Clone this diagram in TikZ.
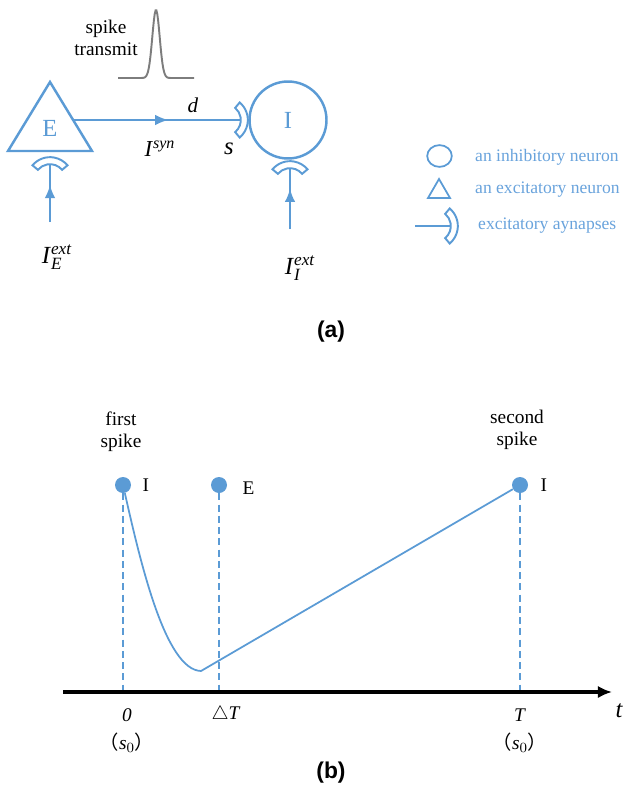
\documentclass[tikz,border=0pt]{standalone}
\usepackage{amsmath,amssymb}
\usepackage{fontspec}
\setmainfont{Liberation Serif}
\newfontfamily\tagfont{Liberation Sans}
\newfontfamily\cjk{Noto Sans CJK SC}
\usepackage{tikz}
\usetikzlibrary{calc,positioning,arrows.meta,decorations.markings}
\usepackage{xcolor}
\definecolor{nblue}{RGB}{91,155,213}
\definecolor{lblue}{RGB}{105,163,220}
\definecolor{sgray}{RGB}{125,125,125}

\tikzset{
  synapse/.pic={
    \draw[syncup] (-50:9pt) arc (-50:50:9pt) -- (50:13pt) arc (50:-50:13pt) -- cycle;
  }
}

\begin{document}
\begin{tikzpicture}[x=0.02cm,y=-0.02cm,
  nrn/.style={draw=nblue, line width=1.4pt},
  conn/.style={draw=nblue, line width=1.1pt},
  syncup/.style={draw=nblue, line width=1.1pt, fill=white},
  midarrow/.style={postaction={decorate},
    decoration={markings, mark=at position #1 with {\arrow{Latex[length=7.5pt,width=6pt]}}}},
  ntext/.style={text=nblue, font=\fontsize{14}{16}\selectfont},
  legtext/.style={text=lblue, anchor=west, font=\fontsize{10}{12}\selectfont},
  lab/.style={font=\fontsize{11}{12.5}\selectfont, align=center},
  tag/.style={font=\tagfont\bfseries\fontsize{13}{15}\selectfont},
  vdash/.style={draw=nblue, line width=1.2pt, dash pattern=on 4pt off 2.4pt},
  dot/.style={circle, fill=nblue, minimum size=0.32cm, inner sep=0pt},
  trace/.style={draw=nblue, line width=1pt}]
  \useasboundingbox (0,0) rectangle (625,794);

  % ---------- (a) network ----------
  % spike transmit
  \node[lab] (spk) at (106,38) {spike\\transmit};
  \draw[sgray, line width=1.1pt] plot[domain=118:194, samples=90]
    (\x, {78-68*exp(-((\x-156)/5.2)*((\x-156)/5.2))});

  % excitatory neuron E
  \draw[nrn] (8,151) -- (92,151) -- (50,82) -- cycle;
  \node[ntext] (E) at (50,128) {E};

  % inhibitory neuron I
  \node[circle, nrn, minimum size=1.54cm, inner sep=0pt] (I) at (288,120) {};
  \node[ntext] (Ilab) at (288,120) {I};

  % synapse E -> I
  \coordinate (Eout) at (74,120);
  \coordinate (sI) at (241,120);
  \draw[conn, midarrow=0.565] (Eout) -- (sI);
  \pic at (225,120) {synapse};
  \node[font=\fontsize{12}{14}\selectfont\itshape] (d) at (193,105) {d};
  \node[font=\fontsize{13}{15}\selectfont] (Isyn) at (160,149) {\textit{I}$^{\textit{syn}}$};
  \node[font=\fontsize{14}{16}\selectfont\itshape] (s) at (229,149) {s};

  % external inputs
  \coordinate (eIn) at (50,222);
  \coordinate (eSyn) at (50,164);
  \draw[conn, midarrow=0.64] (eIn) -- (eSyn);
  \pic[rotate=90] at (50,180) {synapse};
  \coordinate (iIn) at (290,229);
  \coordinate (iSyn) at (290,168);
  \draw[conn, midarrow=0.66] (iIn) -- (iSyn);
  \pic[rotate=90] at (290,184) {synapse};
  \node[font=\fontsize{14}{16}\selectfont] (IE) at (57,257) {\textit{I}$_{\textit{E}}^{\textit{ext}}$};
  \node[font=\fontsize{14}{16}\selectfont] (II) at (300,268) {\textit{I}$_{\textit{I}}^{\textit{ext}}$};

  % legend
  \draw[nblue, line width=1pt] (439.5,156) ellipse [x radius=7pt, y radius=6.2pt];
  \node[legtext] (l1) at (469,157) {an inhibitory neuron};
  \draw[nblue, line width=1pt] (428,198) -- (450,198) -- (439,179) -- cycle;
  \node[legtext] (l2) at (469,190) {an excitatory neuron};
  \coordinate (lgA) at (415,226);
  \coordinate (lgB) at (451,226);
  \draw[conn, line width=1pt] (lgA) -- (lgB);
  \pic at (435,226) {synapse};
  \node[legtext] (l3) at (472,226) {excitatory aynapses};

  \node[tag] (taga) at (331,332) {(a)};

  % ---------- (b) time course ----------
  \coordinate (o) at (63,692);
  \coordinate (tend) at (612,692);
  \node[dot] (I1) at (123,485) {};
  \node[dot] (E1) at (219,485) {};
  \node[dot] (I2) at (520,485) {};
  \node[lab, right=0.1cm of I1] (I1lab) {I};
  \node[lab, right=0.18cm of E1, yshift=-0.06cm] (E1lab) {E};
  \node[lab, right=0.12cm of I2] (I2lab) {I};
  \node[lab] (first) at (121,432) {first\\spike};
  \node[lab] (second) at (517,430) {second\\spike};

  % dashed markers
  \draw[vdash] (I1) -- (I1 |- o);
  \draw[vdash] (E1) -- (E1 |- o);
  \draw[vdash] (I2) -- (I2 |- o);

  % trace
  \coordinate (low) at (201,671);
  \draw[trace] (I1) .. controls (140,560) and (165,670) .. (low) -- (I2);

  % time axis
  \draw[line width=1.8pt, -{Latex[length=8pt,width=7pt]}] (o) -- (tend);
  \node[lab, font=\fontsize{14}{16}\selectfont\itshape] (t) at (619,711) {t};
  \node[lab] (t0) at (127,715) {\textit{0}};
  \node[lab] (tdT) at (226,715) {$\triangle$\textit{T}};
  \node[lab] (tT) at (520,715) {\textit{T}};
  \node[lab] (s01) at (127,743) {{\cjk （}\textit{s}$_0${\cjk ）}};
  \node[lab] (s02) at (520,743) {{\cjk （}\textit{s}$_0${\cjk ）}};

  \node[tag] (tagb) at (331,773) {(b)};
\end{tikzpicture}
\end{document}
